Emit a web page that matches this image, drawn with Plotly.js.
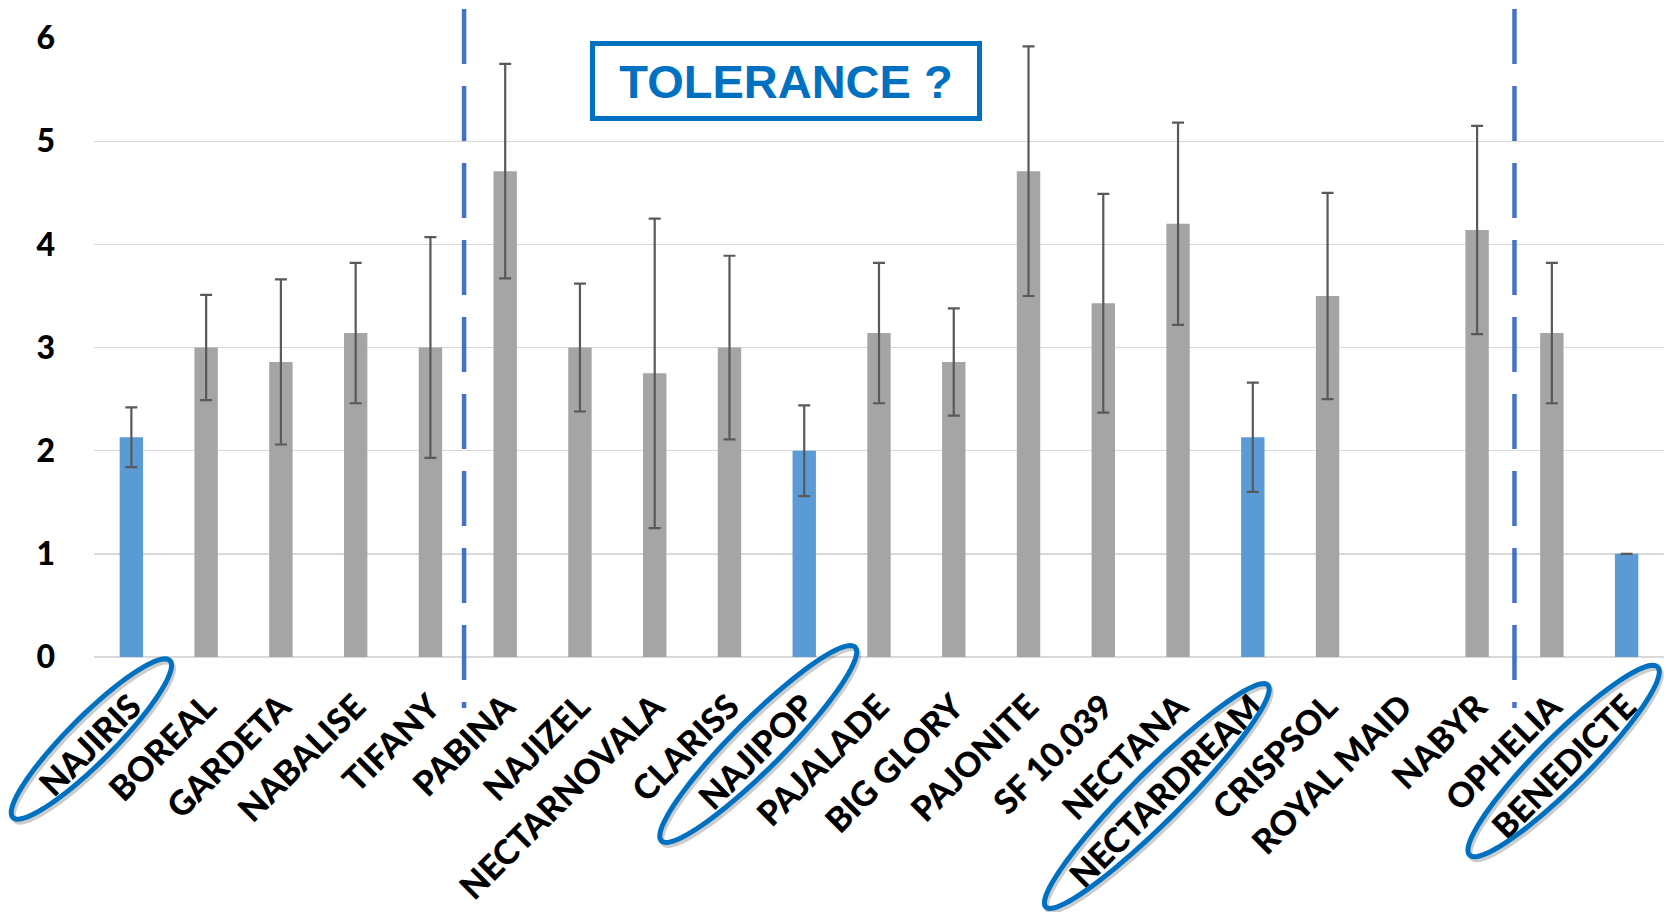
<!DOCTYPE html>
<html><head><meta charset="utf-8">
<script src="https://cdn.plot.ly/plotly-3.0.1.min.js"></script>
<style>html,body{margin:0;padding:0;background:#fff;}#chart{width:1667px;height:912px;}</style>
</head><body><div id="chart"></div>
<script>
// ---- data ----
const categories = ['NAJIRIS','BOREAL','GARDETA','NABALISE','TIFANY','PABINA','NAJIZEL','NECTARNOVALA','CLARISS','NAJIPOP','PAJALADE','BIG GLORY','PAJONITE','SF 10.039','NECTANA','NECTARDREAM','CRISPSOL','ROYAL MAID','NABYR','OPHELIA','BENEDICTE'];
const values = [2.13, 3.0, 2.86, 3.14, 3.0, 4.71, 3.0, 2.75, 3.0, 2.0, 3.14, 2.86, 4.71, 3.43, 4.2, 2.13, 3.5, null, 4.14, 3.14, 1.0];
const errors = [0.29, 0.51, 0.8, 0.68, 1.07, 1.04, 0.62, 1.5, 0.89, 0.44, 0.68, 0.52, 1.21, 1.06, 0.98, 0.53, 1.0, null, 1.01, 0.68, 0];
const highlighted = ['NAJIRIS','NAJIPOP','NECTARDREAM','BENEDICTE'];
const groupBoundaries = [4.45, 18.5];
const calloutText = 'TOLERANCE ?';
const yTickVals = [0, 1, 2, 3, 4, 5, 6];

// ---- layout geometry (px) ----
const W = 1667, H = 912;
const M = {l: 94, r: 3, t: 38, b: 255};
const plotW = W - M.l - M.r, plotH = H - M.t - M.b;
const catW = plotW / categories.length;
const px2paperX = px => (px - M.l) / plotW;
const py2paperY = py => (H - M.b - py) / plotH;
const catCenterPx = i => M.l + catW * (i + 0.5);

// ellipse decorations around highlighted labels (offset from category centre, in px)
const ellipseGeom = {
  'NAJIRIS':     {dx: -40, cy: 739, a: 111, b: 23},
  'NAJIPOP':     {dx: -46, cy: 744, a: 137, b: 25},
  'NECTARDREAM': {dx: -96, cy: 796, a: 157, b: 25},
  'BENEDICTE':   {dx: -63, cy: 761, a: 133, b: 25}
};

function ellipsePath(cx, cy, a, b, offx, offy) {
  const u = [Math.SQRT1_2, -Math.SQRT1_2], v = [Math.SQRT1_2, Math.SQRT1_2];
  let d = '';
  const n = 96;
  for (let k = 0; k <= n; k++) {
    const t = 2 * Math.PI * k / n;
    const x = cx + offx + a * Math.cos(t) * u[0] + b * Math.sin(t) * v[0];
    const y = cy + offy + a * Math.cos(t) * u[1] + b * Math.sin(t) * v[1];
    d += (k === 0 ? 'M' : 'L') + px2paperX(x).toFixed(5) + ',' + py2paperY(y).toFixed(5) + ' ';
  }
  return d + 'Z';
}

const barColors = categories.map(c => highlighted.includes(c) ? '#5B9BD5' : '#A5A5A5');

const trace = {
  type: 'bar',
  x: categories,
  y: values,
  marker: {color: barColors, line: {width: 0}},
  error_y: {type: 'data', array: errors, visible: true, color: '#595959', thickness: 2.2, width: 6},
  hoverinfo: 'x+y'
};

const shapes = [];
groupBoundaries.forEach(bd => {
  const xp = (bd + 0.5) / categories.length;
  shapes.push({type: 'line', xref: 'paper', yref: 'paper', x0: xp, x1: xp,
    y0: py2paperY(9), y1: py2paperY(708),
    line: {color: '#4472C4', width: 4.5, dash: '55px,22px'}});
});
highlighted.forEach(c => {
  const g = ellipseGeom[c];
  const i = categories.indexOf(c);
  const cx = catCenterPx(i) + g.dx;
  shapes.push({type: 'path', xref: 'paper', yref: 'paper', path: ellipsePath(cx, g.cy, g.a, g.b, 2, 3),
    line: {color: 'rgba(0,0,0,0.2)', width: 5}});
  shapes.push({type: 'path', xref: 'paper', yref: 'paper', path: ellipsePath(cx, g.cy, g.a, g.b, 0, 0),
    line: {color: '#0070C0', width: 5}});
});

const labelFont = {family: 'Lato, "Open Sans", sans-serif', size: 34, weight: 900, color: '#000'};

const layout = {
  width: W, height: H,
  margin: M,
  paper_bgcolor: '#ffffff', plot_bgcolor: '#ffffff',
  showlegend: false,
  bargap: 0.687,
  font: {family: 'Lato, "Open Sans", sans-serif', color: '#000'},
  xaxis: {
    type: 'category', range: [-0.5, categories.length - 0.5],
    tickangle: -45, automargin: false, showgrid: false, zeroline: false, showline: false, ticks: '',
    tickfont: labelFont,
    ticklabelstandoff: 22
  },
  yaxis: {
    range: [0, 6.001], tickvals: yTickVals, ticktext: yTickVals.map(String),
    automargin: false, showgrid: true, gridcolor: '#D9D9D9', gridwidth: 1.5,
    zeroline: true, zerolinecolor: '#D9D9D9', zerolinewidth: 1.5, showline: false, ticks: '',
    tickfont: {family: 'Lato, "Open Sans", sans-serif', size: 32, weight: 900, color: '#000'},
    ticklabelstandoff: 38
  },
  shapes: shapes,
  annotations: [{
    text: calloutText, xref: 'paper', yref: 'paper',
    x: px2paperX(786), y: py2paperY(81), xanchor: 'center', yanchor: 'middle',
    showarrow: false, width: 382, height: 70,
    bordercolor: '#0070C0', borderwidth: 5, borderpad: 0, bgcolor: '#ffffff',
    font: {family: '"Liberation Sans", Arial, sans-serif', size: 47, weight: 700, color: '#0070C0'}
  }]
};

Plotly.newPlot('chart', [trace], layout, {displayModeBar: false, staticPlot: true});
</script>
</body></html>
